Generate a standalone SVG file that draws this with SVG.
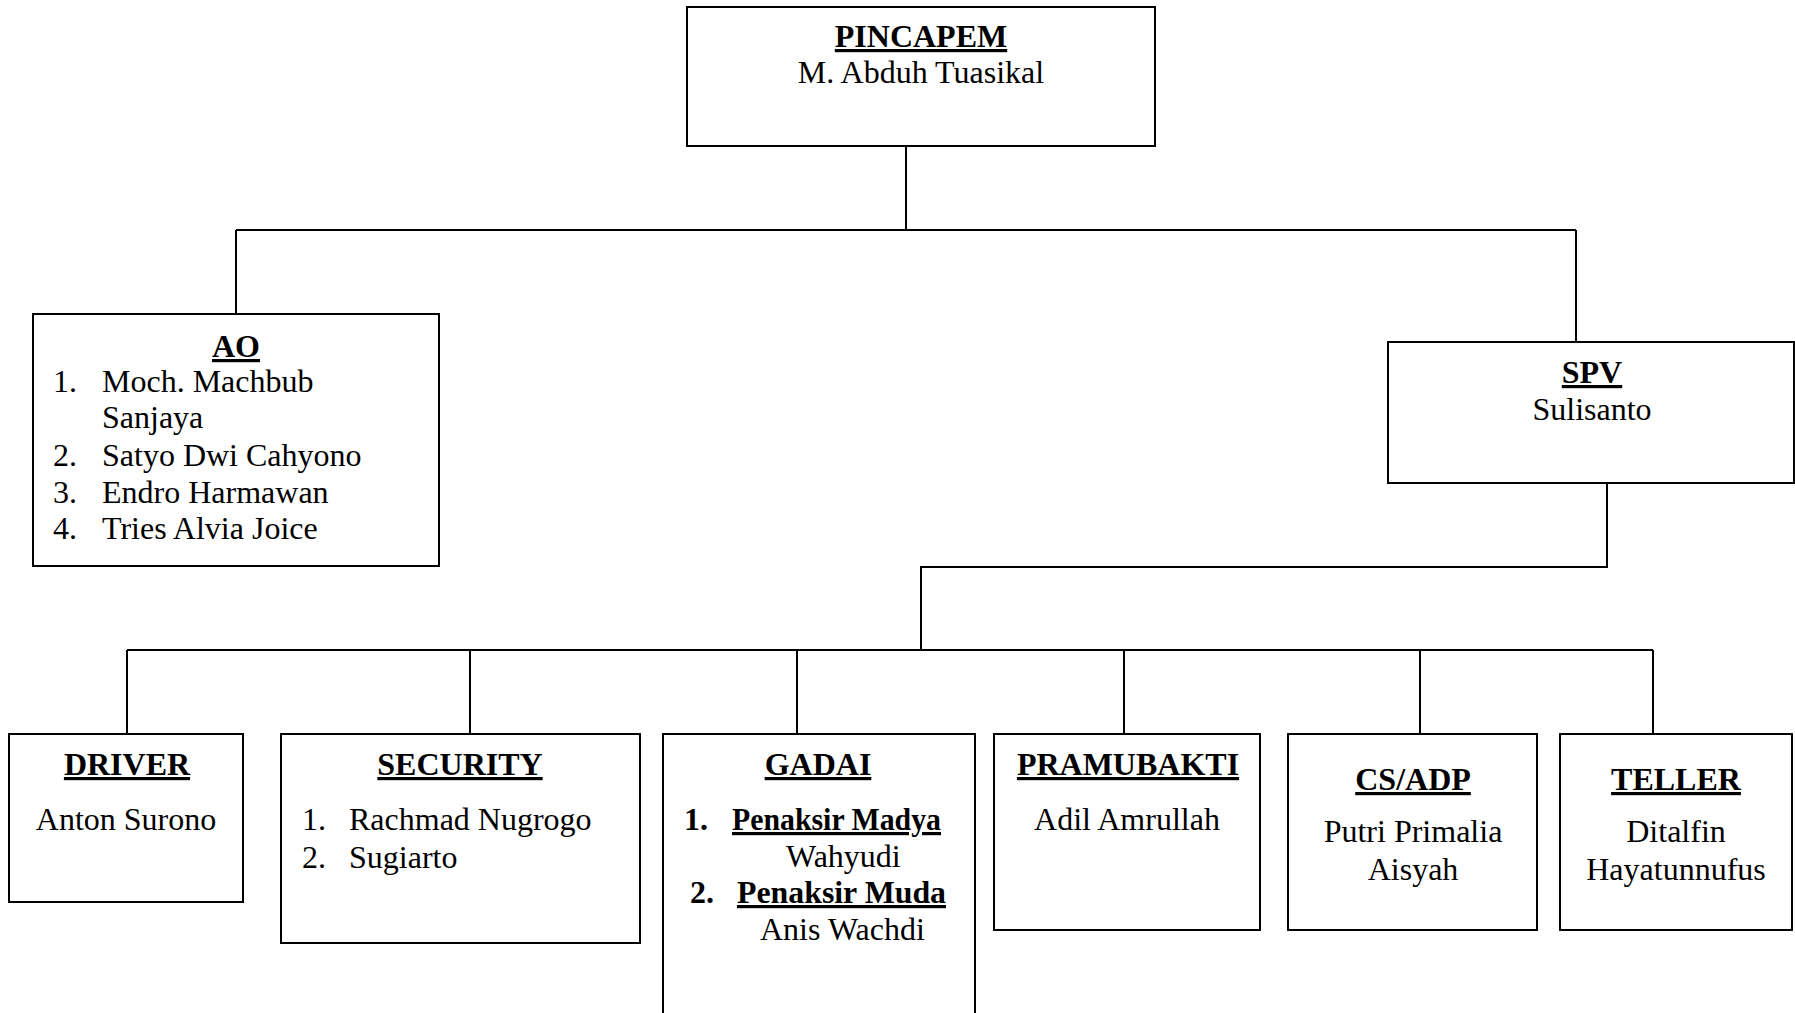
<svg xmlns="http://www.w3.org/2000/svg" width="1795" height="1013" viewBox="0 0 1795 1013">
<style>
  .box { fill: #fff; stroke: #000; stroke-width: 2; }
  .conn { fill: none; stroke: #000; stroke-width: 2; }
  text { font-family: "Liberation Serif", "Times New Roman", serif; font-size: 32px; fill: #000; }
  .t { font-weight: bold; text-decoration: underline; text-decoration-thickness: 2.6px; text-underline-offset: 4px; text-anchor: middle; }
  .b { font-weight: bold; }
  .u { text-decoration: underline; text-decoration-thickness: 2.6px; text-underline-offset: 4px; }
  .c { text-anchor: middle; }
</style>
<rect x="0" y="0" width="1795" height="1013" fill="#fff"/>
<g id="connectors">
  <path class="conn" d="M906,146 V230 M236,230 H1576 M236,230 V314 M1576,230 V342"/>
  <path class="conn" d="M1607,483 V567 H921 V650 M127,650 H1653"/>
  <path class="conn" d="M127,650 V734 M470,650 V734 M797,650 V734 M1124,650 V734 M1420,650 V734 M1653,650 V734"/>
</g>
<g id="pincapem">
  <rect class="box" x="687" y="7" width="468" height="139"/>
  <text class="t" x="921" y="47">PINCAPEM</text>
  <text class="c" x="921" y="83">M. Abduh Tuasikal</text>
</g>
<g id="ao">
  <rect class="box" x="33" y="314" width="406" height="252"/>
  <text class="t" x="236" y="357">AO</text>
  <text x="53" y="392">1.</text><text x="102" y="392">Moch. Machbub</text>
  <text x="102" y="428">Sanjaya</text>
  <text x="53" y="466">2.</text><text x="102" y="466">Satyo Dwi Cahyono</text>
  <text x="53" y="503">3.</text><text x="102" y="503">Endro Harmawan</text>
  <text x="53" y="539">4.</text><text x="102" y="539">Tries Alvia Joice</text>
</g>
<g id="spv">
  <rect class="box" x="1388" y="342" width="406" height="141"/>
  <text class="t" x="1592" y="383">SPV</text>
  <text class="c" x="1592" y="420">Sulisanto</text>
</g>
<g id="driver">
  <rect class="box" x="9" y="734" width="234" height="168"/>
  <text class="t" x="127" y="775">DRIVER</text>
  <text class="c" x="126" y="830">Anton Surono</text>
</g>
<g id="security">
  <rect class="box" x="281" y="734" width="359" height="209"/>
  <text class="t" x="460" y="775">SECURITY</text>
  <text x="302" y="830">1.</text><text x="349" y="830">Rachmad Nugrogo</text>
  <text x="302" y="868">2.</text><text x="349" y="868">Sugiarto</text>
</g>
<g id="gadai">
  <rect class="box" x="663" y="734" width="312" height="290"/>
  <text class="t" x="818" y="775">GADAI</text>
  <text class="b" x="684" y="830">1.</text><text class="b u" x="732" y="830" textLength="209" lengthAdjust="spacingAndGlyphs">Penaksir Madya</text>
  <text x="786" y="867">Wahyudi</text>
  <text class="b" x="690" y="903">2.</text><text class="b u" x="737" y="903" textLength="209" lengthAdjust="spacingAndGlyphs">Penaksir Muda</text>
  <text x="760" y="940">Anis Wachdi</text>
</g>
<g id="pramubakti">
  <rect class="box" x="994" y="734" width="266" height="196"/>
  <text class="t" x="1128" y="775">PRAMUBAKTI</text>
  <text class="c" x="1127" y="830">Adil Amrullah</text>
</g>
<g id="csadp">
  <rect class="box" x="1288" y="734" width="249" height="196"/>
  <text class="t" x="1413" y="790">CS/ADP</text>
  <text class="c" x="1413" y="842">Putri Primalia</text>
  <text class="c" x="1413" y="880">Aisyah</text>
</g>
<g id="teller">
  <rect class="box" x="1560" y="734" width="232" height="196"/>
  <text class="t" x="1676" y="790">TELLER</text>
  <text class="c" x="1676" y="842">Ditalfin</text>
  <text class="c" x="1676" y="880">Hayatunnufus</text>
</g>
</svg>
